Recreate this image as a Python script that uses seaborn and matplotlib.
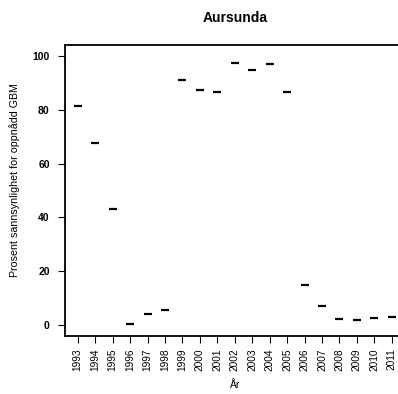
import matplotlib
matplotlib.use("Agg")
import matplotlib.pyplot as plt
import seaborn as sns
import pandas as pd

years = [1993, 1994, 1995, 1996, 1997, 1998, 1999, 2000, 2001, 2002,
         2003, 2004, 2005, 2006, 2007, 2008, 2009, 2010, 2011]
values = [81.3, 67.5, 43.3, 0.4, 4.0, 5.5, 91.0, 87.3, 86.6, 97.4,
          94.8, 97.0, 86.6, 15.0, 7.0, 2.3, 1.9, 2.6, 2.9]
title = "Aursunda"
xlabel = "År"
ylabel = "Prosent sannsynlighet for oppnådd GBM"
yticks = [0, 20, 40, 60, 80, 100]

sns.set_style("white")
plt.rcParams["font.family"] = ["Liberation Sans", "DejaVu Sans"]
plt.rcParams["text.color"] = "black"
plt.rcParams["axes.labelcolor"] = "black"
plt.rcParams["xtick.color"] = "black"
plt.rcParams["ytick.color"] = "black"

df = pd.DataFrame({"year": years, "value": values})

fig = plt.figure(figsize=(3.98, 3.94), dpi=100)
ax = fig.add_axes([65 / 398, 58 / 394, 339.5 / 398, 291 / 394])

sns.scatterplot(data=df, x="year", y="value", marker="_", s=40,
                linewidth=1.6, color="black", ax=ax, legend=False)

ax.set_xlim(1992.27, 2011.73)
ax.set_ylim(-4.1, 104.1)
ax.set_xticks(years)
ax.set_xticklabels([str(y) for y in years], rotation=90, fontsize=7.3,
                   color="black")
ax.set_yticks(yticks)
ax.set_yticklabels([str(t) for t in yticks], fontsize=7.5, fontweight="bold",
                   color="black")
ax.tick_params(axis="both", which="both", direction="out", length=5,
               width=0.8, color="black", left=True, bottom=True)
ax.tick_params(axis="y", pad=6)
ax.tick_params(axis="x", pad=4)

for side in ["left", "top", "bottom"]:
    ax.spines[side].set_visible(True)
    ax.spines[side].set_color("black")
    ax.spines[side].set_linewidth(1.3)
ax.spines["right"].set_visible(False)

ax.set_xlabel(xlabel, fontsize=7.5, va="center", color="black")
ax.xaxis.set_label_coords(0.5, (336 - 385) / 291)
ax.set_ylabel(ylabel, fontsize=7.7, va="center", color="black")
ax.yaxis.set_label_coords((15 - 65) / 339.5, (336 - 180) / 291)

fig.text(234.75 / 398, 1 - 18.5 / 394, title, ha="center", va="center",
         fontsize=10, fontweight="bold", color="black")

fig.savefig("out.png", dpi=100)
